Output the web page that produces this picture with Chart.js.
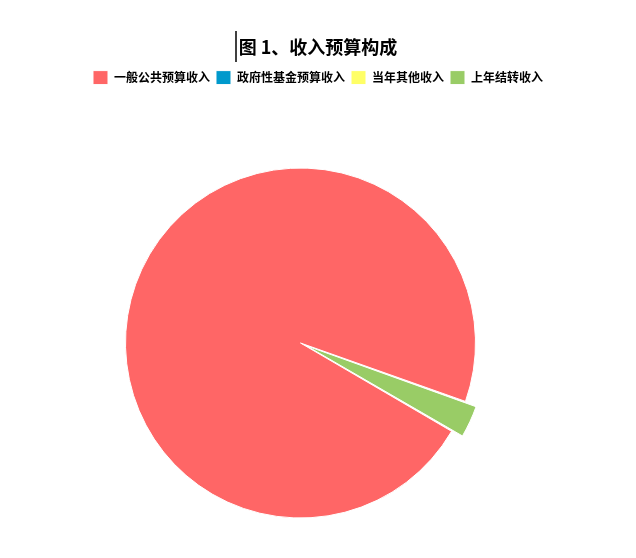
<!DOCTYPE html>
<html>
<head>
<meta charset="utf-8">
<script src="https://cdn.jsdelivr.net/npm/chart.js@4/dist/chart.umd.min.js"></script>
<style>
html,body{margin:0;padding:0;background:#fff;}
#wrap{width:636px;height:558px;position:relative;}
</style>
</head>
<body>
<div id="wrap"><canvas id="c" width="636" height="558"></canvas></div>
<script>
const categories = ['一般公共预算收入', '政府性基金预算收入', '当年其他收入', '上年结转收入'];
const values = [97.0, 0, 0, 3.0];
const colors = ['#FF6666', '#0099CC', '#FFFF66', '#99CC66'];
const titleText = '图 1、收入预算构成';

const placePie = {
  id: 'placePie',
  afterLayout(chart) {
    const ca = chart.chartArea;
    const cx = 300.5, cy = 343, h = 195;
    ca.left = cx - h; ca.right = cx + h; ca.top = cy - h; ca.bottom = cy + h;
    ca.width = 2 * h; ca.height = 2 * h;
  }
};
const cursorMark = {
  id: 'cursorMark',
  afterDraw(chart) {
    const ctx = chart.ctx;
    ctx.save();
    ctx.strokeStyle = '#000';
    ctx.lineWidth = 1.5;
    ctx.beginPath();
    ctx.moveTo(236, 31);
    ctx.lineTo(236, 62);
    ctx.stroke();
    ctx.restore();
  }
};

new Chart(document.getElementById('c'), {
  type: 'pie',
  data: {
    labels: categories,
    datasets: [{
      data: values,
      backgroundColor: colors,
      borderColor: '#ffffff',
      borderWidth: 1,
      offset: [0, 0, 0, 26],
      hoverOffset: 0,
      clip: false
    }]
  },
  options: {
    responsive: false,
    animation: false,
    rotation: 120.3,
    radius: 175,
    plugins: {
      title: {
        display: true,
        text: titleText,
        color: '#000',
        font: { family: '"Noto Sans CJK SC", sans-serif', size: 18, weight: 'bold' },
        padding: { top: 36, bottom: 7 }
      },
      legend: {
        display: true,
        position: 'top',
        labels: {
          boxWidth: 15,
          boxHeight: 14,
          padding: 6,
          color: '#000',
          font: { family: '"Noto Sans CJK SC", sans-serif', size: 12, weight: 'bold' }
        }
      },
      tooltip: { enabled: false }
    }
  },
  plugins: [placePie, cursorMark]
});
</script>
</body>
</html>
